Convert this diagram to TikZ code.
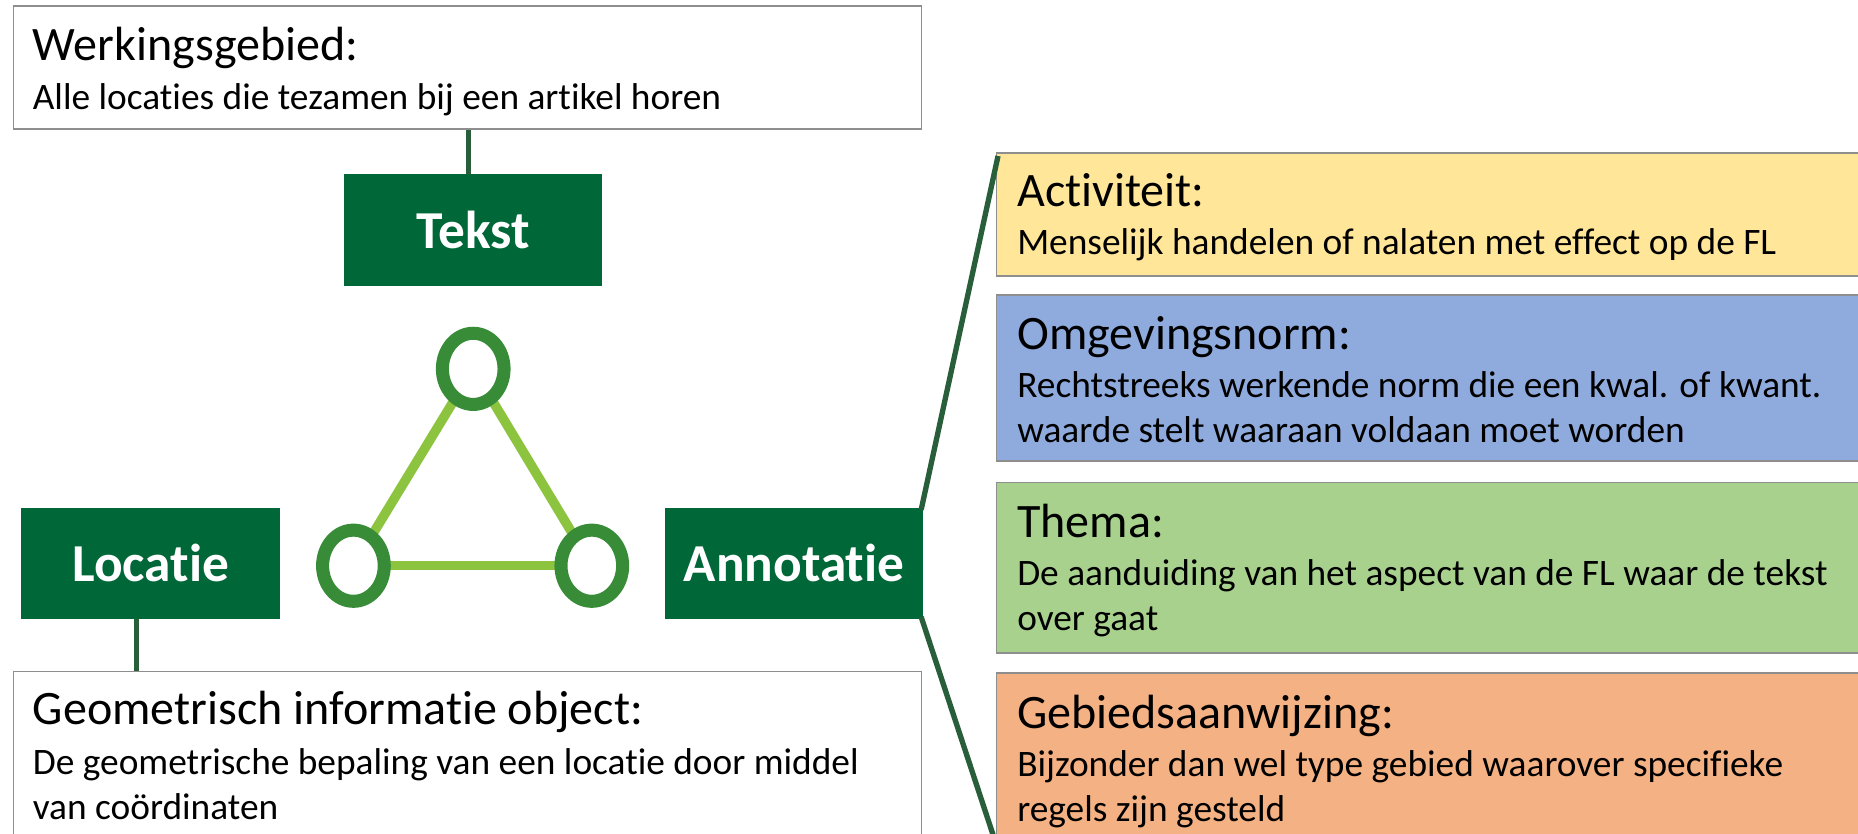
\documentclass[tikz,border=0pt]{standalone}
\usepackage{fontspec}
\setmainfont{Carlito}[Ligatures={NoCommon,NoContextual}]
\usetikzlibrary{shapes.geometric,calc}
\definecolor{boxgreen}{HTML}{006738}
\definecolor{ringgreen}{HTML}{388C37}
\definecolor{linegreen}{HTML}{8CC43F}
\definecolor{conngreen}{HTML}{295E3B}
\definecolor{bordergray}{HTML}{8E8E8E}
\definecolor{actfill}{HTML}{FFE699}
\definecolor{normfill}{HTML}{8FAADC}
\definecolor{themafill}{HTML}{A9D18E}
\definecolor{gebfill}{HTML}{F4B183}
\pgfdeclarelayer{bg}
\pgfsetlayers{bg,main}
\begin{document}
\begin{tikzpicture}[x=1pt,y=-1pt,
  greenbox/.style={fill=boxgreen, draw=none, minimum width=218pt, minimum height=94pt,
    text=white, font=\fontsize{45}{50}\selectfont\bfseries, inner sep=0pt},
  infobox/.style={draw=bordergray, line width=1.5pt, anchor=north west, inner sep=0pt},
  titletext/.style={anchor=base west, inner sep=0pt, font=\fontsize{40.5}{46}\selectfont},
  subtext/.style={anchor=base west, inner sep=0pt, font=\fontsize{31.5}{36}\selectfont},
  ring/.style={ellipse, draw=ringgreen, fill=white, line width=11pt, minimum width=52pt,
    minimum height=60pt, inner sep=0pt},
  triline/.style={draw=linegreen, line width=8pt},
  conn/.style={draw=conngreen, line width=4.5pt}
]
\useasboundingbox (0,0) rectangle (1566.6,703.2);
\clip (0,0) rectangle (1566.6,703.2);
\begin{pgfonlayer}{bg}
\fill[white] (0,0) rectangle (1566.6,703.2);
\end{pgfonlayer}

% left info boxes
\node[infobox, minimum width=765.5pt, minimum height=103.8pt] (werk) at (10.7,4.2) {};
\node[titletext] (werkT) at (27.5,51) {Werkingsgebied:};
\node[subtext] (werkS) at (27.5,92) {Alle locaties die tezamen bij een artikel horen};

\node[infobox, minimum width=765.5pt, minimum height=200pt] (geom) at (10.7,565.5) {};
\node[titletext] (geomT) at (27.5,611) {Geometrisch informatie object:};
\node[subtext] (geomS1) at (27.5,653) {De geometrische bepaling van een locatie door middel};
\node[subtext] (geomS2) at (27.5,691) {van coördinaten};

% right info boxes
\node[infobox, fill=actfill, minimum width=800pt, minimum height=103.5pt] (act) at (839.5,128.5) {};
\node[titletext] (actT) at (857.5,174) {Activiteit:};
\node[subtext] (actS) at (857.5,215) {Menselijk handelen of nalaten met effect op de FL};

\node[infobox, fill=normfill, minimum width=800pt, minimum height=140pt] (norm) at (839.5,248) {};
\node[titletext] (normT) at (857.5,295) {Omgevingsnorm:};
\node[subtext] (normS1) at (857.5,335.5) {Rechtstreeks werkende norm die een kwal. of kwant.};
\node[subtext] (normS2) at (857.5,373.5) {waarde stelt waaraan voldaan moet worden};

\node[infobox, fill=themafill, minimum width=800pt, minimum height=144pt] (thema) at (839.5,406) {};
\node[titletext] (themaT) at (857.5,453.5) {Thema:};
\node[subtext] (themaS1) at (857.5,494) {De aanduiding van het aspect van de FL waar de tekst};
\node[subtext] (themaS2) at (857.5,532) {over gaat};

\node[infobox, fill=gebfill, minimum width=800pt, minimum height=200pt] (geb) at (839.5,567) {};
\node[titletext] (gebT) at (857.5,614) {Gebiedsaanwijzing:};
\node[subtext] (gebS1) at (857.5,654.5) {Bijzonder dan wel type gebied waarover specifieke};
\node[subtext] (gebS2) at (857.5,692.5) {regels zijn gesteld};

% green boxes
\node[greenbox] (tekst) at (399,194) {Tekst};
\node[greenbox] (loc) at (127,475) {Locatie};
\node[greenbox] (annot) at (669.5,475) {Annotatie};

% triangle
\node[ring] (rt) at (399,311) {};
\node[ring] (rl) at (298,477) {};
\node[ring] (rr) at (499,477) {};
\begin{pgfonlayer}{bg}
\draw[triline] (rt.center) -- (rl.center);
\draw[triline] (rt.center) -- (rr.center);
\draw[triline] (rl.center) -- (rr.center);
\end{pgfonlayer}

% connectors
\coordinate (tc) at ($(tekst.north)+(-4,0)$);
\draw[conn] (tc) -- (tc |- werk.south);
\coordinate (lc) at ($(loc.south)+(-12,0)$);
\draw[conn] (lc) -- (lc |- geom.north);
\draw[conn] ($(annot.north east)+(-2,2)$) -- ($(act.north west)+(2,3)$);
\coordinate (gebcorner) at (838,706);
\draw[conn] ($(annot.south east)+(-2,-2)$) -- (gebcorner);
\end{tikzpicture}
\end{document}
